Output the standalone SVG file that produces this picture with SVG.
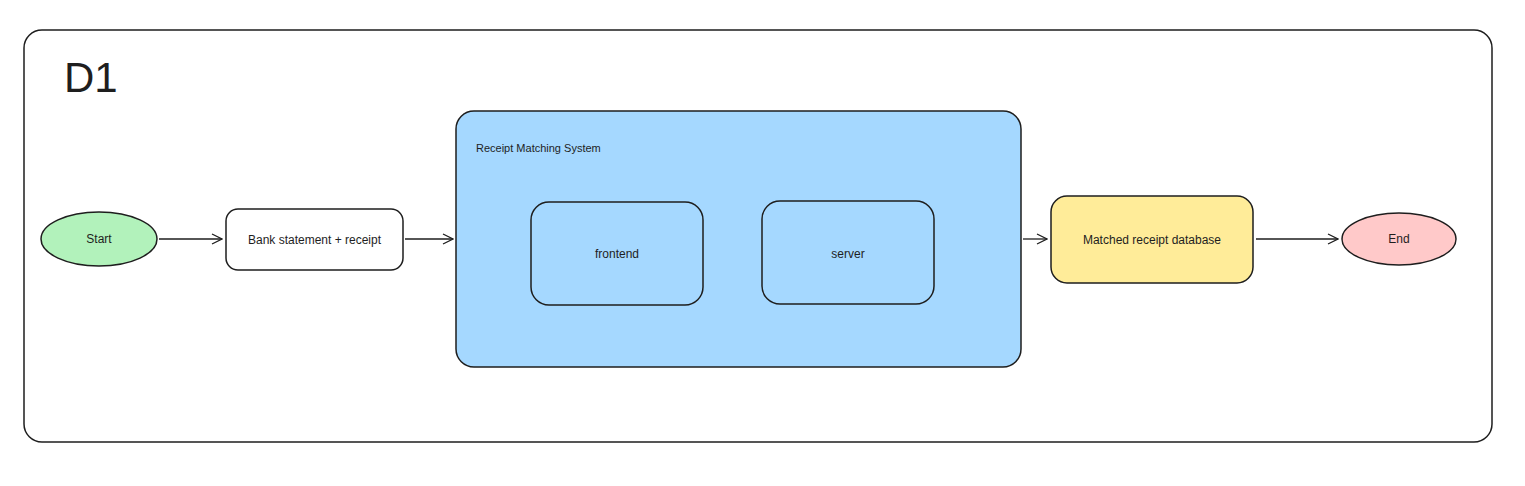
<svg xmlns="http://www.w3.org/2000/svg" width="1525" height="486" viewBox="0 0 1525 486">
<style>
.s{stroke:#1e1e1e;stroke-width:1.5}
.t{font-family:"Liberation Sans",Arial,sans-serif;fill:#1e1e1e;font-size:12px;text-anchor:middle;dominant-baseline:central}
.c{fill:none;stroke:#1e1e1e;stroke-width:1.3}
</style>
<defs>
<marker id="ah" viewBox="0 0 12 12" refX="11" refY="6" markerWidth="12" markerHeight="12" markerUnits="userSpaceOnUse" orient="auto">
<path d="M1,1 L11,6 L1,11" fill="none" stroke="#1e1e1e" stroke-width="1.3"/>
</marker>
</defs>
<rect width="1525" height="486" fill="#fff"/>
<g id="frame">
<rect x="24" y="30" width="1468" height="412" rx="18" fill="#fff" class="s"/>
<text x="64" y="92" style="font-family:'Liberation Sans',Arial,sans-serif;font-size:42px;fill:#1e1e1e">D1</text>
</g>
<g id="start">
<ellipse cx="99" cy="239" rx="58" ry="27" fill="#b2f2bb" class="s"/>
<text x="99" y="239" class="t">Start</text>
</g>
<g id="bank">
<rect x="226" y="209" width="177" height="61" rx="12" fill="#fff" class="s"/>
<text x="314.5" y="239.5" class="t">Bank statement + receipt</text>
</g>
<g id="rms">
<rect x="456" y="111" width="565" height="256" rx="18" fill="#a5d8ff" class="s"/>
<text x="476" y="148" class="t" style="text-anchor:start;font-size:11px">Receipt Matching System</text>
</g>
<g id="frontend">
<rect x="531" y="202" width="172" height="103" rx="18" fill="#a5d8ff" class="s"/>
<text x="617" y="254" class="t">frontend</text>
</g>
<g id="server">
<rect x="762" y="201" width="172" height="103" rx="18" fill="#a5d8ff" class="s"/>
<text x="848" y="254" class="t">server</text>
</g>
<g id="matched">
<rect x="1051" y="196" width="202" height="87" rx="16" fill="#ffec99" class="s"/>
<text x="1152" y="240" class="t">Matched receipt database</text>
</g>
<g id="end">
<ellipse cx="1399" cy="239" rx="57" ry="26" fill="#ffc9c9" class="s"/>
<text x="1399" y="239" class="t">End</text>
</g>
<g id="connectors">
<line x1="159" y1="239" x2="222" y2="239" class="c" marker-end="url(#ah)"/>
<line x1="405" y1="239" x2="453" y2="239" class="c" marker-end="url(#ah)"/>
<line x1="1023" y1="239" x2="1047" y2="239" class="c" marker-end="url(#ah)"/>
<line x1="1256" y1="239" x2="1338" y2="239" class="c" marker-end="url(#ah)"/>
</g>
</svg>
